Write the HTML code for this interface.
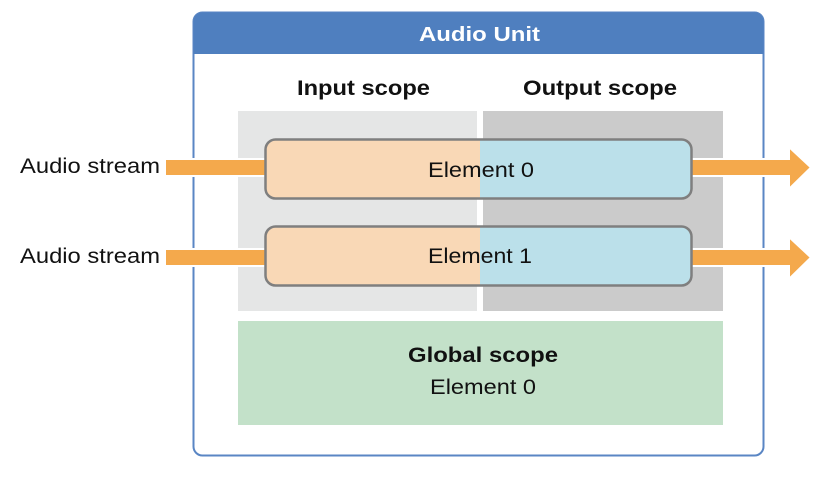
<!DOCTYPE html>
<html><head><style>
body{margin:0;width:826px;height:472px;background:#fff;overflow:hidden;font-family:"Liberation Sans",sans-serif;}
</style></head><body>
<svg width="826" height="472" xmlns="http://www.w3.org/2000/svg" font-family="Liberation Sans, sans-serif">
<defs><clipPath id="c0"><rect x="265" y="139" width="427" height="60" rx="10"/></clipPath>
<clipPath id="c1"><rect x="265" y="226" width="427" height="60" rx="10"/></clipPath></defs>
<rect x="193.5" y="12.5" width="570" height="443" rx="9" fill="#fff" stroke="#5a86c4" stroke-width="2"/>
<path d="M193.5 54 V21.5 a9 9 0 0 1 9 -9 H754.5 a9 9 0 0 1 9 9 V54 Z" fill="#4f7fbf"/>
<text x="419" y="41" fill="#fff" font-size="20" font-weight="bold" textLength="121" lengthAdjust="spacingAndGlyphs">Audio Unit</text>
<text x="297" y="95" font-size="21" font-weight="bold" fill="#111" textLength="133" lengthAdjust="spacingAndGlyphs">Input scope</text>
<text x="523" y="95" font-size="21" font-weight="bold" fill="#111" textLength="154" lengthAdjust="spacingAndGlyphs">Output scope</text>
<rect x="238" y="111" width="239" height="200" fill="#e5e6e6"/>
<rect x="483" y="111" width="240" height="200" fill="#cbcbcb"/>
<rect x="238" y="321" width="485" height="104" fill="#c3e1c9"/>
<text x="408" y="362" font-size="21" font-weight="bold" fill="#111" textLength="150" lengthAdjust="spacingAndGlyphs">Global scope</text>
<text x="430" y="394" font-size="21" fill="#111" textLength="106" lengthAdjust="spacingAndGlyphs">Element 0</text>
<g stroke="#fff" stroke-width="2" fill="#f4a94c">
<rect x="165" y="159" width="101" height="17"/>
<rect x="165" y="249" width="101" height="17"/>
<path d="M691 159 H789 V147 L811 167.5 L789 189 V176 H691 Z"/>
<path d="M691 249 H789 V237 L811 257.5 L789 279 V266 H691 Z"/>
</g>
<g clip-path="url(#c0)"><rect x="265" y="139" width="215" height="60" fill="#f9d8b6"/><rect x="480" y="139" width="212" height="60" fill="#bbe0ea"/></g>
<g clip-path="url(#c1)"><rect x="265" y="226" width="215" height="60" fill="#f9d8b6"/><rect x="480" y="226" width="212" height="60" fill="#bbe0ea"/></g>
<rect x="265.5" y="139.5" width="426" height="59" rx="10" fill="none" stroke="#7f7f7f" stroke-width="2.5"/>
<rect x="265.5" y="226.5" width="426" height="59" rx="10" fill="none" stroke="#7f7f7f" stroke-width="2.5"/>
<text x="428" y="177" font-size="21" fill="#111" textLength="106" lengthAdjust="spacingAndGlyphs">Element 0</text>
<text x="428" y="263" font-size="21" fill="#111" textLength="104" lengthAdjust="spacingAndGlyphs">Element 1</text>
<text x="20" y="173" font-size="21" fill="#111" textLength="140" lengthAdjust="spacingAndGlyphs">Audio stream</text>
<text x="20" y="263" font-size="21" fill="#111" textLength="140" lengthAdjust="spacingAndGlyphs">Audio stream</text>
</svg>
</body></html>
